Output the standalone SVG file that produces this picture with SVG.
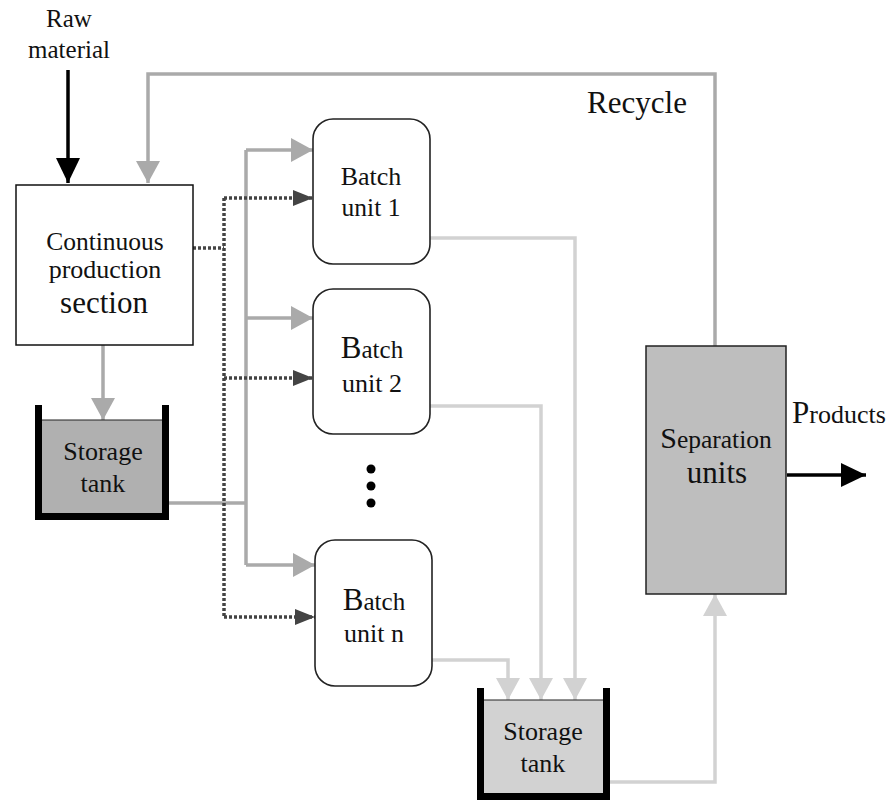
<svg xmlns="http://www.w3.org/2000/svg" width="889" height="800" viewBox="0 0 889 800">
<style>
text{font-family:"Liberation Serif","Times New Roman",serif;fill:#111;text-anchor:middle}
.g{fill:none;stroke:#aaaaaa;stroke-width:3.5}
.l{fill:none;stroke:#d2d2d2;stroke-width:3.5}
.d{fill:none;stroke:#444;stroke-width:3.5;stroke-dasharray:3 2}
.k{fill:none;stroke:#000;stroke-width:3.5}
.batch{fill:#fff;stroke:#222;stroke-width:1.6}
.wall{fill:none;stroke:#000;stroke-width:7;stroke-linejoin:miter}
</style>
<defs>
<marker id="ag" markerUnits="userSpaceOnUse" viewBox="0 0 22 24" refX="22" refY="12" markerWidth="22" markerHeight="24" orient="auto"><path d="M0,0L22,12L0,24z" fill="#aaaaaa"/></marker>
<marker id="al" markerUnits="userSpaceOnUse" viewBox="0 0 22 24" refX="22" refY="12" markerWidth="22" markerHeight="24" orient="auto"><path d="M0,0L22,12L0,24z" fill="#d2d2d2"/></marker>
<marker id="ad" markerUnits="userSpaceOnUse" viewBox="0 0 20 16" refX="20" refY="8" markerWidth="20" markerHeight="16" orient="auto"><path d="M0,0L20,8L0,16z" fill="#444"/></marker>
<marker id="ak" markerUnits="userSpaceOnUse" viewBox="0 0 25 24" refX="25" refY="12" markerWidth="25" markerHeight="24" orient="auto"><path d="M0,0L25,12L0,24z" fill="#000"/></marker>
</defs>

<g id="connectors">
<path class="k" d="M68,70V183" marker-end="url(#ak)"/>
<path class="g" d="M715,346V74H148V183" marker-end="url(#ag)"/>
<path class="g" d="M103,345V420" marker-end="url(#ag)"/>
<path class="g" d="M169,503H246"/>
<path class="g" d="M246,150V565"/>
<path class="g" d="M246,150H313" marker-end="url(#ag)"/>
<path class="g" d="M246,318H313" marker-end="url(#ag)"/>
<path class="g" d="M246,565H315" marker-end="url(#ag)"/>
<path class="d" d="M193,248H224"/>
<path class="d" d="M224,198V617"/>
<path class="d" d="M224,198H313" marker-end="url(#ad)"/>
<path class="d" d="M224,378H313" marker-end="url(#ad)"/>
<path class="d" d="M224,617H315" marker-end="url(#ad)"/>
<path class="l" d="M430,238H575V700" marker-end="url(#al)"/>
<path class="l" d="M430,406H541V700" marker-end="url(#al)"/>
<path class="l" d="M432,660H508V700" marker-end="url(#al)"/>
<path class="l" d="M610,782H715V594" marker-end="url(#al)"/>
<path class="k" d="M787,475H866" marker-end="url(#ak)"/>
</g>

<g id="raw-material">
<text x="69" y="27" font-size="25">Raw</text>
<text x="69" y="58" font-size="25">material</text>
</g>

<g id="recycle-label">
<text x="637" y="113" font-size="31">Recycle</text>
</g>

<g id="continuous">
<rect x="16" y="185" width="177" height="160" fill="#fff" stroke="#111" stroke-width="1.5"/>
<text x="105" y="250" font-size="25.5">Continuous</text>
<text x="105" y="278" font-size="26">production</text>
<text x="104" y="313" font-size="31">section</text>
</g>

<g id="storage-tank-1">
<rect x="38" y="420" width="128" height="96" fill="#b0b0b0" stroke="#222" stroke-width="1"/>
<path class="wall" d="M38.5,405V516.5H165.5V405"/>
<text x="103" y="460" font-size="26">Storage</text>
<text x="103" y="492" font-size="26">tank</text>
</g>

<g id="batch-1">
<rect class="batch" x="313" y="119" width="117" height="145" rx="20"/>
<text x="371" y="185" font-size="26">Batch</text>
<text x="371" y="216" font-size="25.5">unit 1</text>
</g>

<g id="batch-2">
<rect class="batch" x="313" y="289" width="117" height="145" rx="20"/>
<text x="372" y="358" font-size="25"><tspan font-size="31">B</tspan>atch</text>
<text x="372" y="392" font-size="26">unit 2</text>
</g>

<g id="ellipsis">
<circle cx="371" cy="469" r="4.5" fill="#000"/>
<circle cx="371" cy="486" r="4.5" fill="#000"/>
<circle cx="371" cy="503" r="4.5" fill="#000"/>
</g>

<g id="batch-n">
<rect class="batch" x="315" y="540" width="117" height="146" rx="20"/>
<text x="374" y="610" font-size="25"><tspan font-size="31">B</tspan>atch</text>
<text x="374" y="642" font-size="26">unit n</text>
</g>

<g id="storage-tank-2">
<rect x="480" y="700" width="126" height="96" fill="#d2d2d2" stroke="#222" stroke-width="1"/>
<path class="wall" d="M480.5,688V796.5H606.5V688"/>
<text x="543" y="740" font-size="26">Storage</text>
<text x="543" y="772" font-size="26">tank</text>
</g>

<g id="separation">
<rect x="646" y="346" width="140" height="248" fill="#bebebe" stroke="#222" stroke-width="1.5"/>
<text x="716" y="448" font-size="25.5"><tspan font-size="30">S</tspan>eparation</text>
<text x="717" y="483" font-size="31">units</text>
</g>

<g id="products-label">
<text x="839" y="423" font-size="26"><tspan font-size="31">P</tspan>roducts</text>
</g>
</svg>
